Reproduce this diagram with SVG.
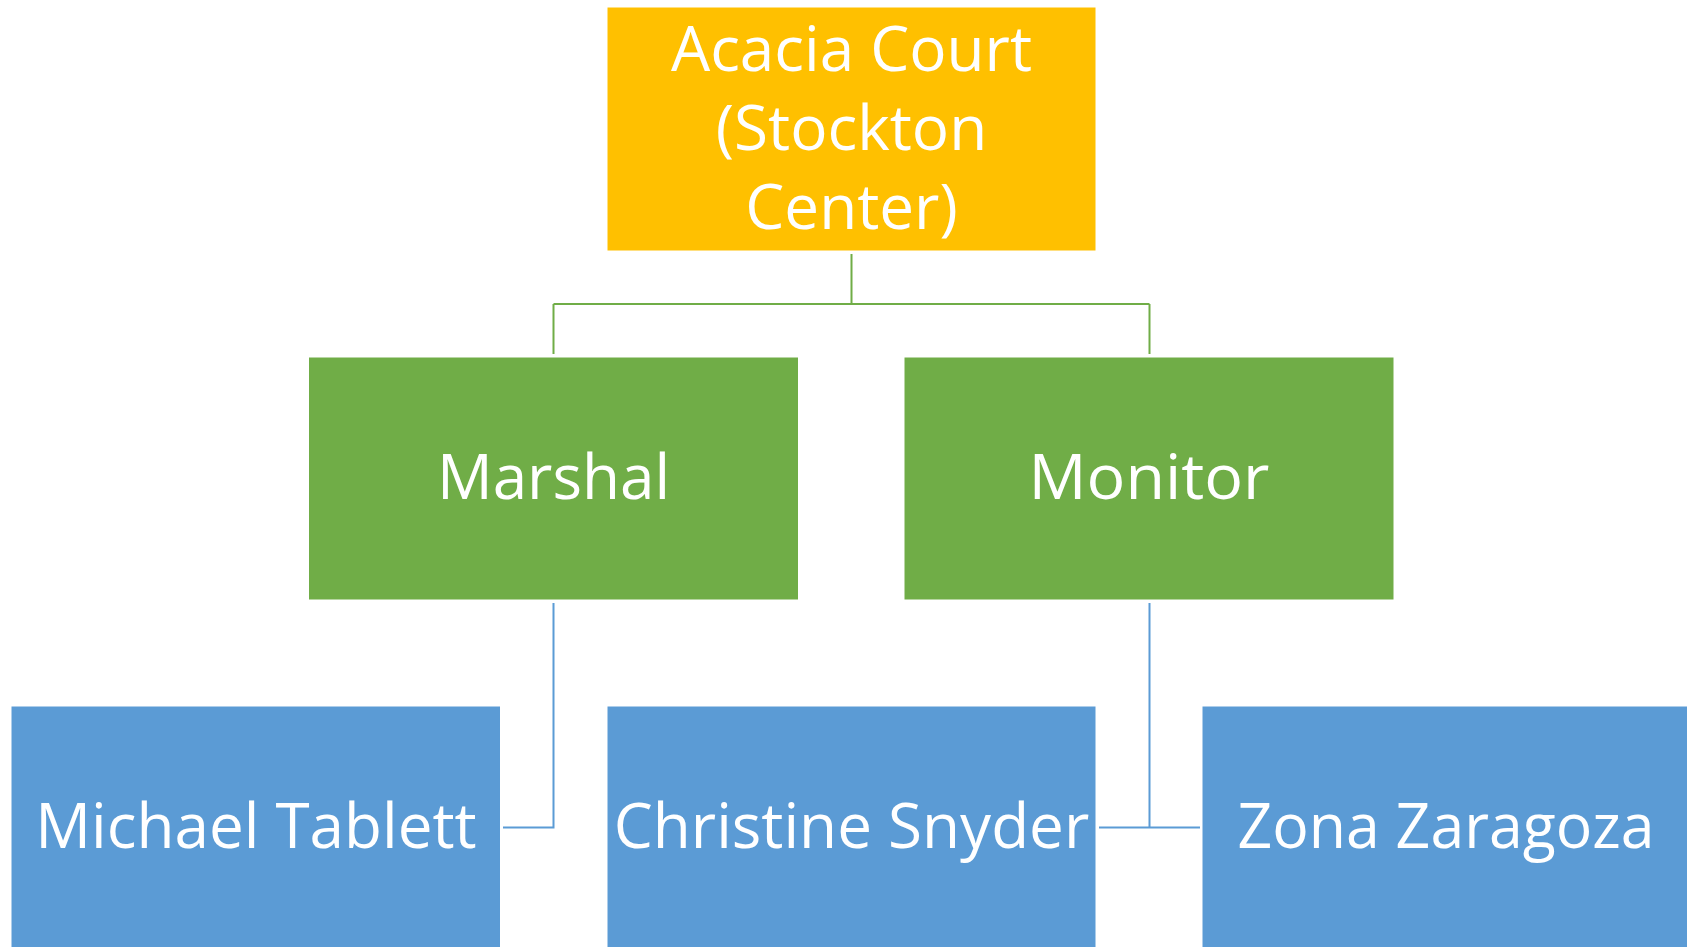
<svg xmlns="http://www.w3.org/2000/svg" width="1687" height="947" viewBox="0 0 1687 947">
<style>
.box{stroke:#ffffff;stroke-width:1}
.gold{fill:#FFC000}
.green{fill:#70AD47}
.blue{fill:#5B9BD5}
.lbl{font-family:"Open Sans","Noto Sans",sans-serif;font-size:62px;fill:#ffffff;text-anchor:middle}
.cg{fill:none;stroke:#70AD47;stroke-width:2}
.cb{fill:none;stroke:#5B9BD5;stroke-width:2}
</style>
<rect width="1687" height="947" fill="#ffffff"/>
<g id="connectors">
<path class="cg" d="M851.5 254 V304 M553.5 304 H1149.5 M553.5 304 V354"/>
<path class="cg" d="M1149.5 304 V354"/>
<path class="cb" d="M553.5 603 V827.5 H503"/>
<path class="cb" d="M1149.5 603 V827.5 M1099 827.5 H1200"/>
</g>
<g id="node-acacia">
<rect class="box gold" x="607" y="7" width="489" height="244"/>
<text class="lbl" x="851.5" y="70.7">Acacia Court</text>
<text class="lbl" x="851.5" y="149.7">(Stockton</text>
<text class="lbl" x="851.5" y="228.7">Center)</text>
</g>
<g id="node-marshal">
<rect class="box green" x="308.5" y="357" width="490" height="243"/>
<text class="lbl" x="553.5" y="499.3">Marshal</text>
</g>
<g id="node-monitor">
<rect class="box green" x="904" y="357" width="490" height="243"/>
<text class="lbl" x="1149" y="499.3" textLength="241" lengthAdjust="spacingAndGlyphs">Monitor</text>
</g>
<g id="node-michael">
<rect class="box blue" x="11" y="706" width="489.5" height="250"/>
<text class="lbl" x="256" y="847.7">Michael Tablett</text>
</g>
<g id="node-christine">
<rect class="box blue" x="607" y="706" width="489" height="250"/>
<text class="lbl" x="851.5" y="847.7">Christine Snyder</text>
</g>
<g id="node-zona">
<rect class="box blue" x="1202" y="706" width="489" height="250"/>
<text class="lbl" x="1446" y="847.7" textLength="417" lengthAdjust="spacingAndGlyphs">Zona Zaragoza</text>
</g>
</svg>
